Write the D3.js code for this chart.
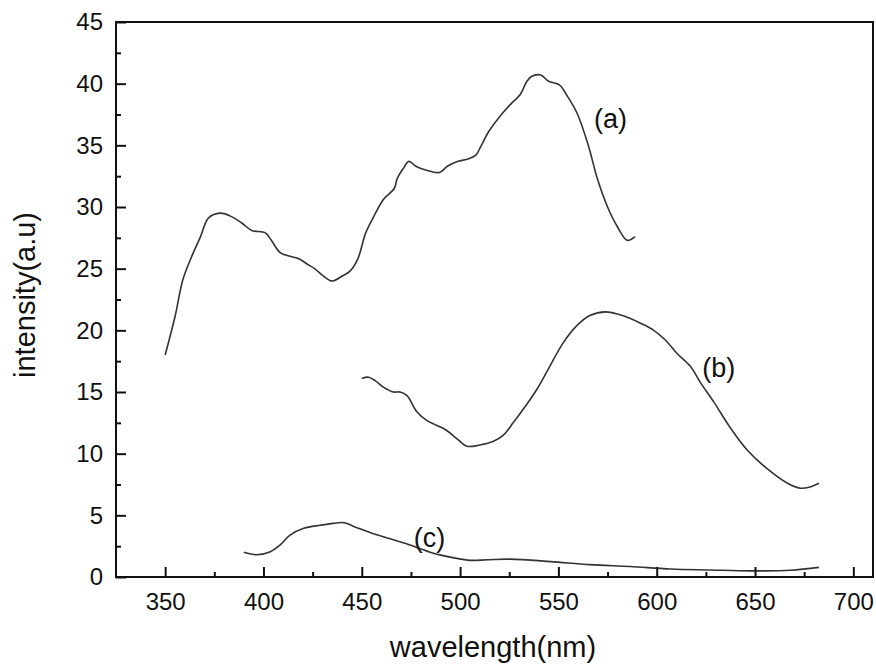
<!DOCTYPE html>
<html>
<head>
<meta charset="utf-8">
<script src="https://cdn.jsdelivr.net/npm/d3@7"></script>
<style>
  body { margin: 0; background: #fff; }
  text { font-family: "Liberation Sans", Arial, sans-serif; fill: #111; }
</style>
</head>
<body>
<svg id="chart" width="876" height="664"></svg>
<script>
// curve (a)
const wavelengthA = [350, 355, 359, 363.5, 368, 372, 378, 384, 389, 394, 401, 404, 408.5, 413.5, 418, 422, 426, 430.5, 435, 440, 444, 448, 452, 456, 461, 466.5, 468, 471, 474, 477.5, 482.5, 489.5, 493.5, 499, 504, 508, 510.5, 514.5, 519.5, 525.5, 530.5, 534, 536.5, 541, 545, 550.5, 554.5, 559.5, 565, 570, 575, 580, 585, 589];
const intensityA = [18.0, 21.1, 24.1, 26.0, 27.6, 29.1, 29.5, 29.2, 28.7, 28.1, 27.9, 27.3, 26.3, 26.0, 25.8, 25.4, 25.0, 24.4, 24.0, 24.4, 24.8, 25.8, 27.9, 29.2, 30.6, 31.5, 32.3, 33.1, 33.7, 33.3, 33.0, 32.8, 33.3, 33.7, 33.9, 34.2, 34.9, 36.1, 37.2, 38.3, 39.1, 40.2, 40.6, 40.7, 40.2, 39.9, 39.0, 37.6, 35.1, 32.2, 30.0, 28.4, 27.3, 27.6];

// curve (b)
const wavelengthB = [450, 453.5, 457, 461, 466, 469.5, 473, 478, 483, 488, 493, 498.5, 503.5, 510, 517, 522, 527, 533, 539, 545, 552.5, 559.5, 566, 574, 580.5, 586, 591.5, 598.5, 604.5, 610.5, 617, 622.5, 629, 637, 646, 656, 666.5, 673, 678, 682.5];
const intensityB = [16.1, 16.2, 15.9, 15.4, 15.0, 15.0, 14.7, 13.4, 12.7, 12.3, 11.9, 11.2, 10.6, 10.7, 11.0, 11.5, 12.5, 13.8, 15.2, 16.9, 19.0, 20.4, 21.2, 21.5, 21.3, 21.0, 20.6, 20.0, 19.2, 18.1, 17.1, 15.7, 14.2, 12.2, 10.3, 8.8, 7.6, 7.2, 7.3, 7.6];

// curve (c)
const wavelengthC = [390, 396.5, 403.5, 408.5, 413.5, 420.5, 429, 435.5, 441, 447.5, 456, 464.5, 474.5, 486, 497, 505, 514, 525.5, 546, 566, 586.5, 607, 627.5, 647.5, 668, 682.5];
const intensityC = [2.0, 1.8, 2.05, 2.6, 3.4, 3.95, 4.2, 4.35, 4.4, 4.0, 3.5, 3.1, 2.6, 1.95, 1.55, 1.35, 1.4, 1.45, 1.25, 1.0, 0.85, 0.65, 0.57, 0.5, 0.55, 0.78];

const xTicks = [350, 400, 450, 500, 550, 600, 650, 700];
const xMinorTicks = [375, 425, 475, 525, 575, 625, 675];
const yTicks = [0, 5, 10, 15, 20, 25, 30, 35, 40, 45];
const yMinorTicks = [2.5, 7.5, 12.5, 17.5, 22.5, 27.5, 32.5, 37.5, 42.5];

const curveLabels = ['(a)', '(b)', '(c)'];
const labelWavelength = [576.5, 631.5, 484.5];
const labelIntensity = [37.2, 17.0, 3.2];

const svg = d3.select('#chart');
const plotLeft = 116, plotRight = 873, plotTop = 22, plotBottom = 577;

const x = d3.scaleLinear().domain([325, 710]).range([plotLeft, plotRight]);
const y = d3.scaleLinear().domain([0, 45]).range([plotBottom, plotTop]);

const series = [
  d3.zip(wavelengthA, intensityA),
  d3.zip(wavelengthB, intensityB),
  d3.zip(wavelengthC, intensityC)
];

const line = d3.line()
  .x((d) => x(d[0]))
  .y((d) => y(d[1]))
  .curve(d3.curveCatmullRom.alpha(0.5));

svg.selectAll('path.curve').data(series).enter().append('path')
  .attr('class', 'curve')
  .attr('d', line)
  .attr('fill', 'none')
  .attr('stroke', '#333')
  .attr('stroke-width', 1.6);

// axes, ticks pointing inward
const xAxis = svg.append('g').attr('transform', `translate(0,${plotBottom})`)
  .call(d3.axisBottom(x).tickValues(xTicks).tickSizeInner(-10).tickSizeOuter(0).tickPadding(16));
const xMinor = svg.append('g').attr('transform', `translate(0,${plotBottom})`)
  .call(d3.axisBottom(x).tickValues(xMinorTicks).tickSizeInner(-5).tickSizeOuter(0).tickFormat(''));
const yAxis = svg.append('g').attr('transform', `translate(${plotLeft},0)`)
  .call(d3.axisLeft(y).tickValues(yTicks).tickSizeInner(-10).tickSizeOuter(0).tickPadding(13));
const yMinor = svg.append('g').attr('transform', `translate(${plotLeft},0)`)
  .call(d3.axisLeft(y).tickValues(yMinorTicks).tickSizeInner(-5).tickSizeOuter(0).tickFormat(''));

[xAxis, xMinor, yAxis, yMinor].forEach((g) => {
  g.select('.domain').remove();
  g.selectAll('line').attr('stroke', '#111').attr('stroke-width', 2);
  g.selectAll('text').style('font-size', '24px').attr('fill', '#111');
});

svg.append('rect')
  .attr('x', plotLeft).attr('y', plotTop)
  .attr('width', plotRight - plotLeft).attr('height', plotBottom - plotTop)
  .attr('fill', 'none').attr('stroke', '#111').attr('stroke-width', 2);

svg.selectAll('text.lbl').data(curveLabels).enter().append('text')
  .attr('class', 'lbl')
  .attr('x', (d, i) => x(labelWavelength[i]))
  .attr('y', (d, i) => y(labelIntensity[i]))
  .attr('text-anchor', 'middle')
  .attr('dy', '0.35em')
  .style('font-size', '27px')
  .text((d) => d);

svg.append('text')
  .attr('x', 493).attr('y', 657)
  .attr('text-anchor', 'middle')
  .style('font-size', '29px')
  .text('wavelength(nm)');

svg.append('text')
  .attr('transform', 'translate(35,295) rotate(-90)')
  .attr('text-anchor', 'middle')
  .style('font-size', '29px')
  .text('intensity(a.u)');
</script>
</body>
</html>
